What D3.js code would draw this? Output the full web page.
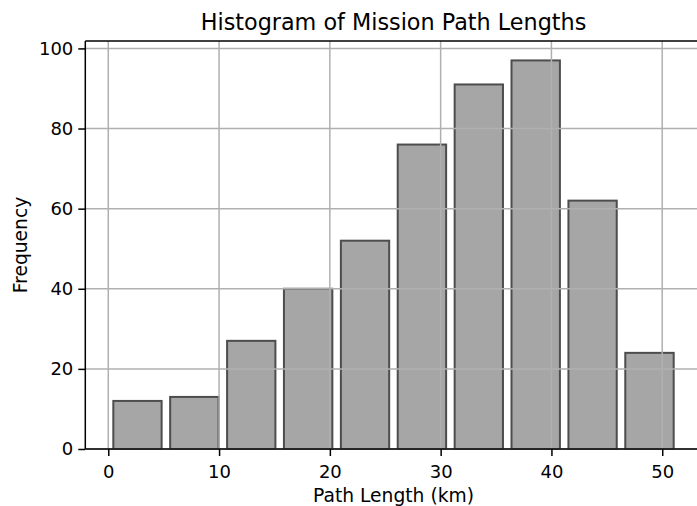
<!DOCTYPE html>
<html>
<head>
<meta charset="utf-8">
<script src="https://cdn.jsdelivr.net/npm/d3@7"></script>
<style>
  html, body { margin: 0; padding: 0; background: #fff; overflow: hidden; }
  svg { display: block; }
  text { font-family: "DejaVu Sans", sans-serif; fill: #000; }
</style>
</head>
<body>
<div id="chart"></div>
<script>
// histogram bins
var binEdges = [0.07, 5.2, 10.34, 15.47, 20.61, 25.74, 30.88, 36.01, 41.15, 46.28, 51.42];
var counts = [12, 13, 27, 40, 52, 76, 91, 97, 62, 24];
var xTicks = [0, 10, 20, 30, 40, 50];
var yTicks = [0, 20, 40, 60, 80, 100];

var W = 697, H = 506;
var margin = {top: 41, left: 85.3, bottom: 449, right: 701.7};
var rwidth = 0.85;

var bars = counts.map(function(c, i) {
    var w = binEdges[i + 1] - binEdges[i];
    var pad = w * (1 - rwidth) / 2;
    return {x0: binEdges[i] + pad, x1: binEdges[i + 1] - pad, count: c};
});

// matplotlib style 5% margin on x, 5% headroom on y
var lo = d3.min(bars, function(d) { return d.x0; }),
    hi = d3.max(bars, function(d) { return d.x1; }),
    span = hi - lo;

var x = d3.scaleLinear()
    .domain([lo - 0.05 * span, hi + 0.05 * span])
    .range([margin.left, margin.right]);

var y = d3.scaleLinear()
    .domain([0, d3.max(counts) * 1.05])
    .range([margin.bottom, margin.top]);

var svg = d3.select("#chart").append("svg")
    .attr("width", W)
    .attr("height", H);

// bars
svg.selectAll(".bar")
    .data(bars)
    .enter()
    .append("rect")
    .attr("class", "bar")
    .attr("x", function(d) { return x(d.x0); })
    .attr("y", function(d) { return y(d.count); })
    .attr("width", function(d) { return x(d.x1) - x(d.x0); })
    .attr("height", function(d) { return y(0) - y(d.count); })
    .attr("fill", "#a6a6a6")
    .attr("stroke", "#4d4d4d")
    .attr("stroke-width", 2);

// grid (sits above the bars like the reference)
svg.append("g")
    .selectAll("line")
    .data(xTicks)
    .enter()
    .append("line")
    .attr("x1", function(d) { return x(d); })
    .attr("x2", function(d) { return x(d); })
    .attr("y1", margin.top)
    .attr("y2", margin.bottom)
    .attr("stroke", "#b0b0b0")
    .attr("stroke-width", 1.5);

svg.append("g")
    .selectAll("line")
    .data(yTicks)
    .enter()
    .append("line")
    .attr("x1", margin.left)
    .attr("x2", margin.right)
    .attr("y1", function(d) { return y(d); })
    .attr("y2", function(d) { return y(d); })
    .attr("stroke", "#b0b0b0")
    .attr("stroke-width", 1.5);

// axes
var xAxis = svg.append("g")
    .attr("transform", "translate(0," + margin.bottom + ")")
    .call(d3.axisBottom(x).tickValues(xTicks).tickSize(7).tickPadding(5));

var yAxis = svg.append("g")
    .attr("transform", "translate(" + margin.left + ",0)")
    .call(d3.axisLeft(y).tickValues(yTicks).tickSize(7).tickPadding(5));

[xAxis, yAxis].forEach(function(a) {
    a.select(".domain").remove();
    a.selectAll(".tick line").attr("stroke", "#000").attr("stroke-width", 1.5);
    a.selectAll(".tick text").style("font-size", "18px").attr("fill", "#000");
});
xAxis.selectAll(".tick text").attr("dy", "0.95em");

// spines: left, bottom, top (right one falls outside the page)
var spines = [
    [margin.left, margin.top, margin.left, margin.bottom],
    [margin.left, margin.bottom, margin.right, margin.bottom],
    [margin.left, margin.top, margin.right, margin.top]
];
svg.append("g")
    .selectAll("line")
    .data(spines)
    .enter()
    .append("line")
    .attr("x1", function(d) { return d[0]; })
    .attr("y1", function(d) { return d[1]; })
    .attr("x2", function(d) { return d[2]; })
    .attr("y2", function(d) { return d[3]; })
    .attr("stroke", "#000")
    .attr("stroke-width", 1.5);

// labels
var cx = (margin.left + margin.right) / 2;

svg.append("text")
    .attr("x", cx)
    .attr("y", 29.5)
    .attr("text-anchor", "middle")
    .style("font-size", "22.3px")
    .text("Histogram of Mission Path Lengths");

svg.append("text")
    .attr("x", cx)
    .attr("y", 502)
    .attr("text-anchor", "middle")
    .style("font-size", "18.7px")
    .text("Path Length (km)");

svg.append("text")
    .attr("transform", "translate(26.5," + (margin.top + margin.bottom) / 2 + ") rotate(-90)")
    .attr("text-anchor", "middle")
    .style("font-size", "18.7px")
    .text("Frequency");
</script>
</body>
</html>
